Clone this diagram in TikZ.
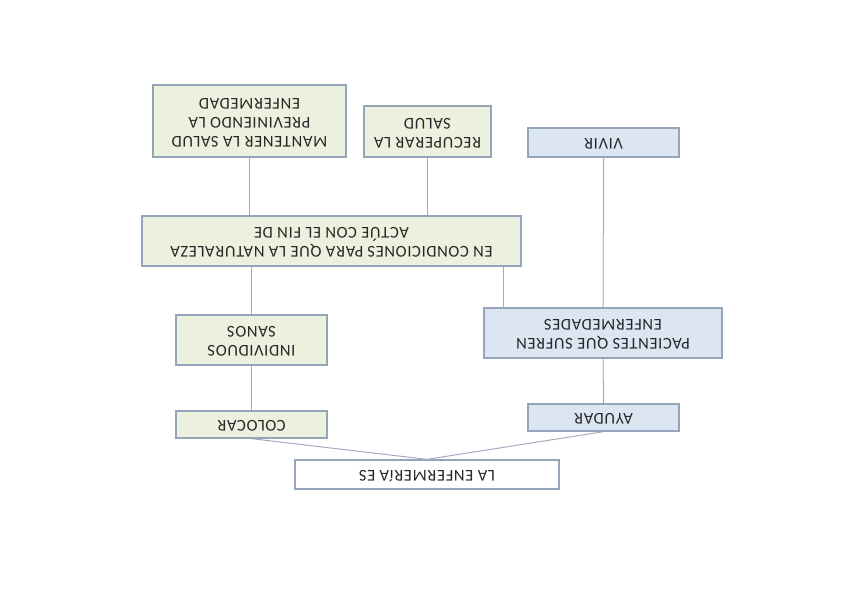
\documentclass[tikz,border=0pt]{standalone}
\usepackage{fontspec}
\setmainfont{Carlito}[LetterSpace=4]
\usetikzlibrary{calc}
\definecolor{gfill}{RGB}{235,241,222}
\definecolor{bfill}{RGB}{220,230,242}
\definecolor{edge}{RGB}{150,164,186}
\definecolor{lnk}{RGB}{160,172,190}
\newcommand{\ud}[1]{\rotatebox[origin=c]{180}{\begin{tabular}{@{}c@{}}#1\end{tabular}}}
\begin{document}
\begin{tikzpicture}[x=1pt,y=-1pt,
  box/.style={draw=edge,line width=1.3pt,inner sep=0pt,font=\fontsize{16.5}{19}\selectfont,text=black!85},
  gbox/.style={box,fill=gfill},
  bbox/.style={box,fill=bfill},
  wbox/.style={box,fill=white},
  link/.style={draw=lnk,line width=1pt}]
\useasboundingbox (0,0) rectangle (848,600);
\node[gbox,minimum width=193pt,minimum height=72pt] (mant) at (249.5,121) {\ud{MANTENER LA SALUD\\PREVINIENDO LA\\ENFERMEDAD}};
\node[gbox,minimum width=127pt,minimum height=51pt] (recup) at (427.5,131.5) {\ud{RECUPERAR LA\\SALUD}};
\node[bbox,minimum width=151pt,minimum height=29pt] (vivir) at (603.5,142.5) {\ud{VIVIR}};
\node[gbox,minimum width=379pt,minimum height=50pt] (cond) at (331.5,241) {\ud{EN CONDICIONES PARA QUE LA NATURALEZA\\ACTÚE CON EL FIN DE}};
\node[gbox,minimum width=151pt,minimum height=50pt] (indiv) at (251.5,340) {\ud{INDIVIDUOS\\SANOS}};
\node[bbox,minimum width=238pt,minimum height=50pt] (pac) at (603,333) {\ud{PACIENTES QUE SUFREN\\ENFERMEDADES}};
\node[gbox,minimum width=151pt,minimum height=27pt] (colocar) at (251.5,424.5) {\ud{COLOCAR}};
\node[bbox,minimum width=151pt,minimum height=27pt] (ayudar) at (603.5,417.5) {\ud{AYUDAR}};
\node[wbox,minimum width=264pt,minimum height=29pt] (enf) at (427,474.5) {\ud{LA ENFERMERíA ES}};
\coordinate (cr) at ($(cond.south east)+(-18,0)$);
\draw[link] (mant.south) -- (mant.south |- cond.north);
\draw[link] (recup.south) -- (recup.south |- cond.north);
\draw[link] (vivir.south) -- (pac.north);
\draw[link] (indiv.north |- cond.south) -- (indiv.north);
\draw[link] (cr) -- (cr |- pac.north);
\draw[link] (indiv.south) -- (colocar.north);
\draw[link] (pac.south) -- (ayudar.north);
\draw[link] (colocar.south) -- (enf.north);
\draw[link] (ayudar.south) -- (enf.north);
\end{tikzpicture}
\end{document}
